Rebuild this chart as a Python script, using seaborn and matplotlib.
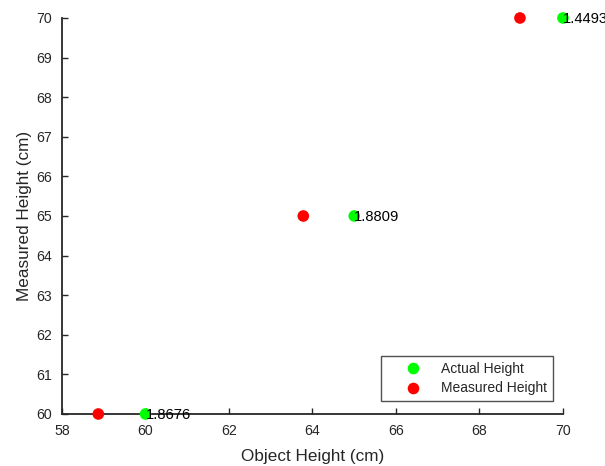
import pandas as pd
import seaborn as sns
import matplotlib.pyplot as plt

# values
object_height = [60, 65, 70]
measured_height = [58.87, 63.78, 68.97]
y_height = [60, 65, 70]
errors = ["1.8676", "1.8809", "1.4493"]
x_ticks = [58, 60, 62, 64, 66, 68, 70]
y_ticks = [60, 61, 62, 63, 64, 65, 66, 67, 68, 69, 70]

sns.set_theme(style="ticks")
plt.rcParams['font.family'] = ['Liberation Sans', 'DejaVu Sans']

df = pd.DataFrame({
    "x": object_height + measured_height,
    "y": y_height + y_height,
    "series": ["Actual Height"] * 3 + ["Measured Height"] * 3,
})

fig = plt.figure(figsize=(6.05, 4.66), dpi=100)
ax = fig.add_axes([0.1025, 0.1116, 0.828, 0.8498])

sns.scatterplot(data=df, x="x", y="y", hue="series",
                palette={"Actual Height": "#00ff00", "Measured Height": "#ff0000"},
                s=70, edgecolor="none", ax=ax, clip_on=False, zorder=3)

for xv, yv, lab in zip(object_height, y_height, errors):
    ax.text(xv, yv - 0.03, lab, ha="left", va="center", fontsize=10.6, color="black", zorder=4)

ax.set_xlim(58, 70)
ax.set_ylim(60, 70)
ax.set_xticks(x_ticks)
ax.set_yticks(y_ticks)
ax.tick_params(direction="in", length=4, width=1, colors="#262626", labelsize=10.2,
               labelcolor="#262626", pad=7)
sns.despine(ax=ax)
for sp in ["left", "bottom"]:
    ax.spines[sp].set_color("#262626")
    ax.spines[sp].set_linewidth(1.3)

ax.set_xlabel("Object Height (cm)", fontsize=12.3, color="#262626", labelpad=8)
ax.set_ylabel("Measured Height (cm)", fontsize=12.3, color="#262626", labelpad=3)

leg = ax.legend(loc="lower right", bbox_to_anchor=(0.98, 0.033), frameon=True, fancybox=False,
                edgecolor="#262626", fontsize=10, markerscale=1.0, handlelength=3.8,
                handletextpad=0.15, borderpad=0.4, labelspacing=0.4, borderaxespad=0)
leg.get_frame().set_linewidth(1.0)

fig.savefig("out.png", dpi=100)
